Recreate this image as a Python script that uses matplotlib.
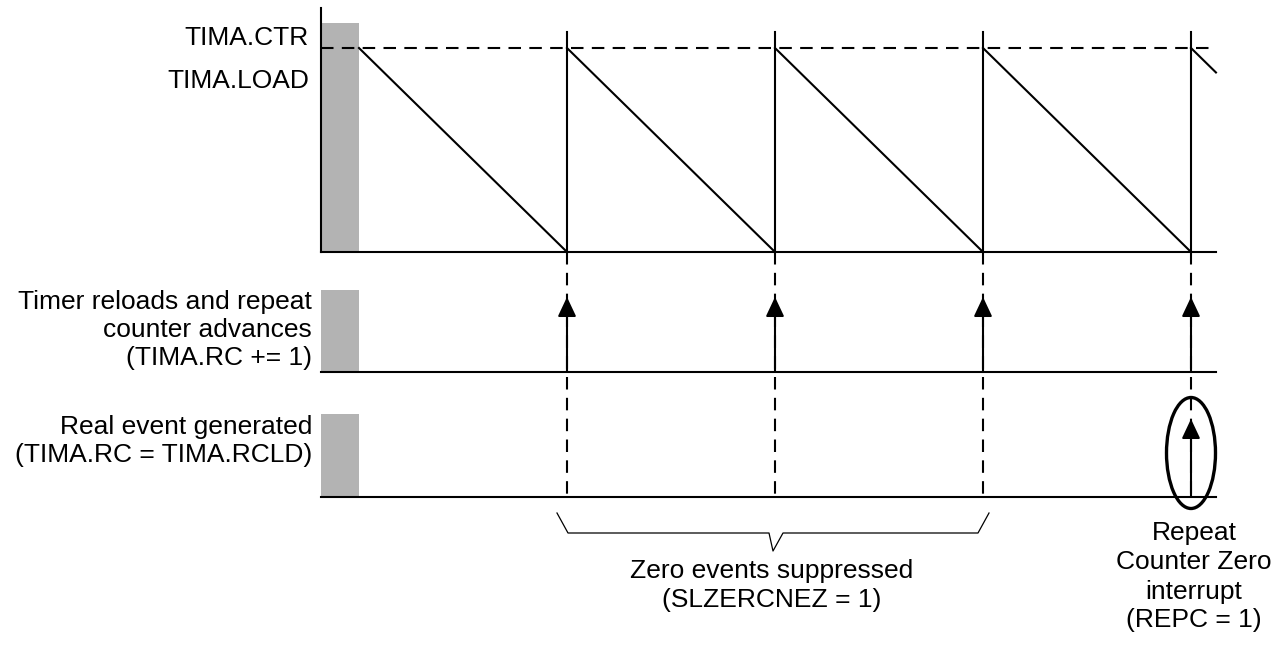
import matplotlib.pyplot as plt
from matplotlib.patches import Ellipse, Rectangle

plt.rcParams['font.family'] = ['Liberation Sans', 'DejaVu Sans']

# timer reload instants, in units of one timer period (t=0 is the start)
reload_t = [1, 2, 3, 4]
suppressed_t = [1, 2, 3]     # reloads where the zero event is suppressed
real_event_t = [4]           # reload where the repeat counter hits zero
end_t = 4.12                 # where the drawing stops
counter_start = 1.0          # counter value just after a load (TIMA.LOAD)

top_labels = ['TIMA.CTR', 'TIMA.LOAD']
mid_label = ['Timer reloads and repeat', 'counter advances', '(TIMA.RC += 1)']
bot_label = ['Real event generated', '(TIMA.RC = TIMA.RCLD)']
brace_label = ['Zero events suppressed', '(SLZERCNEZ = 1)']
irq_label = ['Repeat', 'Counter Zero', 'interrupt', '(REPC = 1)']

# layout: x in periods, y in pixels from the top
X0, PER = 359, 208
def px(x):
    return (x - X0) / PER

TOP_BASE, TOP_HI = 252, 48
MID_BASE, MID_TOP = 372, 290
BOT_BASE, BOT_TOP = 497, 414
FS = 19
LW = 1.5
dash = (0, (6, 4))

fig = plt.figure(figsize=(12.76, 6.45), dpi=100)
ax = fig.add_axes([0, 0, 1, 1])
ax.set_xlim(px(0), px(1276))
ax.set_ylim(645, 0)
ax.axis('off')

def ytop(v):
    return TOP_BASE - (TOP_BASE - TOP_HI) * v

x_ax = px(321)
x_end = end_t

# top panel: counter sawtooth
ax.add_patch(Rectangle((x_ax, 23), 0 - x_ax, TOP_BASE - 23, color='#b3b3b3', lw=0))
ax.plot([x_ax, x_ax], [8, TOP_BASE], color='black', lw=LW)
ax.plot([x_ax, x_end], [TOP_BASE, TOP_BASE], color='black', lw=LW)
ax.plot([x_ax, x_end], [ytop(counter_start)] * 2, color='black', lw=LW, linestyle=dash)

starts = [0] + reload_t
for s in starts:
    e = min(s + 1, x_end)
    ax.plot([s, e], [ytop(counter_start), ytop(counter_start - (e - s))], color='black', lw=LW)
for t in reload_t:
    ax.plot([t, t], [32, TOP_BASE], color='black', lw=LW)
    ax.plot([t, t], [TOP_BASE, BOT_BASE], color='black', lw=LW, linestyle=dash)

# middle and bottom panels
for base, top in [(MID_BASE, MID_TOP), (BOT_BASE, BOT_TOP)]:
    ax.add_patch(Rectangle((x_ax, top), 0 - x_ax, base - top, color='#b3b3b3', lw=0))
    ax.plot([x_ax, x_end], [base, base], color='black', lw=LW)

arrow = dict(arrowstyle='-|>,head_length=0.85,head_width=0.4', color='black',
             lw=LW, mutation_scale=14, shrinkA=0, shrinkB=0)
for t in reload_t:
    ax.annotate('', xy=(t, 297), xytext=(t, MID_BASE), arrowprops=arrow)
for t in real_event_t:
    ax.annotate('', xy=(t, 419), xytext=(t, BOT_BASE), arrowprops=arrow)
    ax.add_patch(Ellipse((t, 453), 49 / PER, 111, fill=False, lw=2.4, color='black'))

# brace under the suppressed events
b0, b1 = suppressed_t[0], suppressed_t[-1]
bm = (b0 + b1) / 2
d = 1 / PER
ax.plot([b0 - 10 * d, b0 + 1 * d, bm - 6 * d, bm - 2 * d, bm + 8 * d, b1 - 5 * d, b1 + 6 * d],
        [513, 533, 533, 551, 533, 533, 513], color='black', lw=0.9)

# texts
for s, y in zip(top_labels, [45, 88]):
    ax.text(px(309), y, s, ha='right', va='baseline', fontsize=FS)
for s, y in zip(mid_label, [309, 337, 365]):
    ax.text(px(312), y, s, ha='right', va='baseline', fontsize=FS)
for s, y in zip(bot_label, [434, 462]):
    ax.text(px(312), y, s, ha='right', va='baseline', fontsize=FS)
for s, y in zip(brace_label, [578, 607]):
    ax.text(bm - 3 * d, y, s, ha='center', va='baseline', fontsize=FS)
for s, y in zip(irq_label, [540, 569, 599, 627]):
    ax.text(px(1194), y, s, ha='center', va='baseline', fontsize=FS)

fig.savefig('out.png', dpi=100)
